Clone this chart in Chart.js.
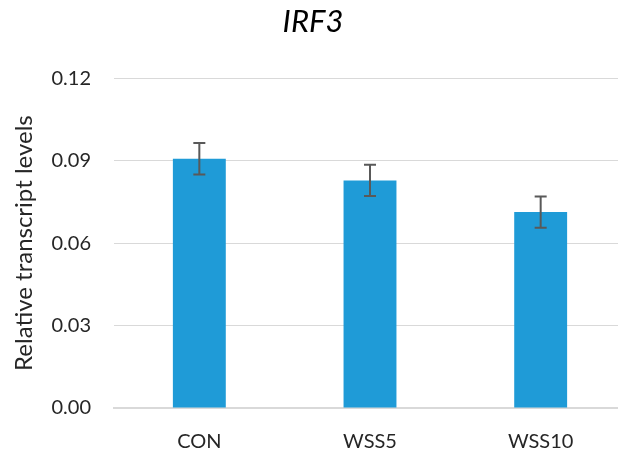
<!DOCTYPE html>
<html>
<head>
<meta charset="utf-8">
<script src="https://cdn.jsdelivr.net/npm/chart.js@4"></script>
<style>
    html, body { margin: 0; padding: 0; background: #fff; overflow: hidden; }
    #wrap { width: 630px; height: 454px; position: relative; }
</style>
</head>
<body>
<div id="wrap"><canvas id="chart"></canvas></div>
<script>
// datos del grafico
var categories = ["CON", "WSS5", "WSS10"];
var values = [0.0907, 0.0828, 0.0713];
var errors = [0.0057, 0.0057, 0.0057];
var yTicks = [0, 0.03, 0.06, 0.09, 0.12];

var fuente = "Lato, 'Open Sans', sans-serif";

// barras de error dibujadas con la escala y
var errorBars = {
    id: "errorBars",
    afterDatasetsDraw: function (chart) {
        var ctx = chart.ctx;
        var y = chart.scales.y;
        var meta = chart.getDatasetMeta(0);
        ctx.save();
        ctx.strokeStyle = "#595959";
        ctx.lineWidth = 2;
        meta.data.forEach(function (bar, i) {
            var yTop = y.getPixelForValue(values[i] + errors[i]);
            var yBot = y.getPixelForValue(values[i] - errors[i]);
            ctx.beginPath();
            ctx.moveTo(bar.x, yTop);
            ctx.lineTo(bar.x, yBot);
            ctx.moveTo(bar.x - 6, yTop);
            ctx.lineTo(bar.x + 6, yTop);
            ctx.moveTo(bar.x - 6, yBot);
            ctx.lineTo(bar.x + 6, yBot);
            ctx.stroke();
        });
        ctx.restore();
    }
};

var ctx = document.getElementById("chart").getContext("2d");
new Chart(ctx, {
    type: "bar",
    data: {
        labels: categories,
        datasets: [
            {
                data: values,
                backgroundColor: "#1f9bd7",
                borderWidth: 0,
                barPercentage: 0.31,
                categoryPercentage: 1.0
            }
        ]
    },
    options: {
        responsive: true,
        maintainAspectRatio: false,
        animation: false,
        layout: { padding: { left: 0, right: 4, top: 0, bottom: 0 } },
        scales: {
            y: {
                min: 0,
                max: 0.12,
                afterBuildTicks: function (scale) {
                    scale.ticks = yTicks.map(function (v) { return { value: v }; });
                },
                afterFit: function (scale) { scale.width = 114; },
                border: { display: false },
                grid: { color: "#d9d9d9", lineWidth: 1, drawTicks: false },
                ticks: {
                    padding: 23,
                    color: "#262626",
                    font: { family: fuente, size: 20 },
                    callback: function (v) { return v.toFixed(2); }
                },
                title: {
                    display: true,
                    text: "Relative transcript levels",
                    color: "#262626",
                    font: { family: fuente, size: 24 },
                    padding: { top: 10, bottom: 0 }
                }
            },
            x: {
                afterFit: function (scale) { scale.height = 46; },
                border: { display: true, color: "#d9d9d9", width: 2 },
                grid: { display: false },
                ticks: {
                    padding: 14,
                    color: "#262626",
                    font: { family: fuente, size: 20 }
                }
            }
        },
        plugins: {
            legend: { display: false },
            tooltip: { enabled: false },
            title: {
                display: true,
                text: "IRF3",
                color: "#000",
                font: { family: fuente, size: 31, style: "italic", weight: "normal" },
                padding: { top: 3, bottom: 38 }
            }
        }
    },
    plugins: [errorBars]
});
</script>
</body>
</html>
